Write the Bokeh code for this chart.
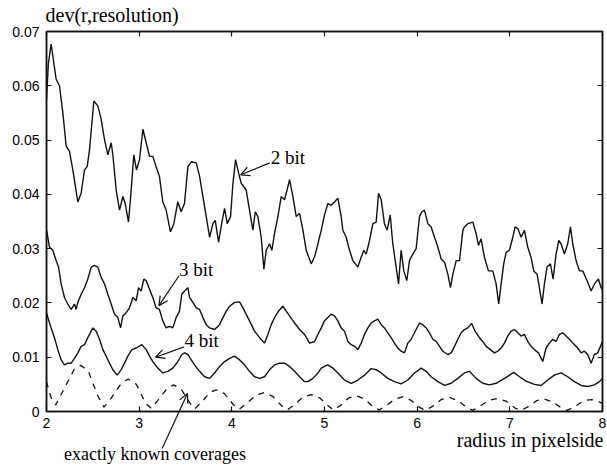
from bokeh.plotting import figure
from bokeh.models import Range1d, LinearAxis, FixedTicker, Label, Arrow, OpenHead, GridBox
from bokeh.embed import file_html
from bokeh.resources import INLINE

x_ticks = [2, 3, 4, 5, 6, 7, 8]
y_ticks = [0, 0.01, 0.02, 0.03, 0.04, 0.05, 0.06, 0.07]
y_tick_labels = ["0", "0.01", "0.02", "0.03", "0.04", "0.05", "0.06", "0.07"]

bit2_x = [2.0, 2.02, 2.05, 2.104, 2.14, 2.176, 2.212, 2.248, 2.284, 2.338, 2.374, 2.41, 2.439, 2.464,
          2.511, 2.554, 2.59, 2.626, 2.662, 2.698, 2.716, 2.752, 2.788, 2.824, 2.849, 2.885, 2.914,
          2.942, 2.971, 3.004, 3.04, 3.076, 3.112, 3.147, 3.183, 3.219, 3.255, 3.291, 3.338, 3.374,
          3.417, 3.453, 3.489,
          3.526, 3.562, 3.616, 3.652, 3.688, 3.724, 3.76, 3.796, 3.821, 3.857, 3.893, 3.922, 3.95,
          3.986, 4.012, 4.04, 4.073, 4.102, 4.13, 4.155, 4.191, 4.227, 4.253, 4.281, 4.317, 4.346,
          4.371, 4.407, 4.432, 4.461, 4.497, 4.533, 4.569, 4.605, 4.623, 4.659, 4.695, 4.731, 4.767,
          4.803, 4.857, 4.893, 4.929, 4.965,
          5.0, 5.036, 5.072, 5.108, 5.144, 5.18, 5.198, 5.234, 5.27, 5.306, 5.36, 5.396, 5.424, 5.45,
          5.486, 5.522, 5.558, 5.583, 5.612, 5.647, 5.676, 5.709, 5.737, 5.773, 5.799, 5.827, 5.856,
          5.888, 5.917, 5.953, 5.989, 6.025, 6.05, 6.079, 6.115, 6.151, 6.187, 6.223, 6.259, 6.295,
          6.331, 6.36, 6.385, 6.421, 6.457, 6.493,
          6.51, 6.546, 6.6, 6.636, 6.661, 6.69, 6.726, 6.769, 6.816, 6.852, 6.88, 6.906, 6.934, 6.96,
          6.996, 7.032, 7.057, 7.086, 7.122, 7.157, 7.193, 7.229, 7.258, 7.294, 7.319, 7.348, 7.373,
          7.402, 7.438, 7.467, 7.499, 7.528, 7.553, 7.589, 7.625, 7.654, 7.679, 7.715, 7.751, 7.787,
          7.834, 7.877, 7.913, 7.956, 7.985, 8.0]
bit2_y = [0.0575, 0.064, 0.0677, 0.0612, 0.0600, 0.0551, 0.0489, 0.0479, 0.0445, 0.0386, 0.0402,
          0.0445, 0.0451, 0.0482, 0.0572, 0.0563, 0.0538, 0.0501, 0.0473, 0.0495, 0.0473, 0.0408,
          0.0371, 0.0396, 0.0383, 0.0349, 0.0408, 0.0473, 0.0445, 0.0464, 0.0520, 0.0495, 0.0470,
          0.0470, 0.0451, 0.0433, 0.0386, 0.0371, 0.0331, 0.0346, 0.0386, 0.0368, 0.0383,
          0.0451, 0.0460, 0.0458, 0.0433, 0.0396, 0.0359, 0.0321, 0.0346, 0.0352, 0.0312, 0.0349,
          0.0374, 0.0346, 0.0359, 0.0420, 0.0464, 0.0439, 0.0420, 0.0414, 0.0408, 0.0371, 0.0334,
          0.0368, 0.0359, 0.0321, 0.0262, 0.0297, 0.0309, 0.0297, 0.0328, 0.0359, 0.0396, 0.0390,
          0.0414, 0.0427, 0.0396, 0.0359, 0.0365, 0.0334, 0.0297, 0.0272, 0.0285, 0.0309, 0.0334,
          0.0362, 0.0383, 0.0380, 0.0386, 0.0393, 0.0359, 0.0334, 0.0321, 0.0297, 0.0278, 0.0266,
          0.0284, 0.0297, 0.0290, 0.0315, 0.0346, 0.0349, 0.0402, 0.0390, 0.0346, 0.0334, 0.0362,
          0.0309, 0.0266, 0.0235, 0.0297, 0.0259, 0.0241, 0.0278, 0.0290, 0.0300, 0.0359, 0.0368,
          0.0371, 0.0346, 0.0340, 0.0321, 0.0303, 0.0281, 0.0275, 0.0253, 0.0228, 0.0253, 0.0278,
          0.0278, 0.0334,
          0.0340, 0.0346, 0.0349, 0.0328, 0.0306, 0.0318, 0.0284, 0.0259, 0.0259, 0.0235, 0.0198,
          0.0235, 0.0272, 0.0293, 0.0297, 0.0321, 0.0340, 0.0337, 0.0321, 0.0334, 0.0303, 0.0284,
          0.0259, 0.0253, 0.0228, 0.0198, 0.0235, 0.0266, 0.0272, 0.0244, 0.0290, 0.0315, 0.0309,
          0.0290, 0.0309, 0.0340, 0.0309, 0.0278, 0.0259, 0.0259, 0.0241, 0.0222, 0.0235, 0.0244,
          0.0228, 0.0225]

bit3_x = [2.0, 2.007, 2.032, 2.068, 2.104, 2.13, 2.158, 2.194, 2.23, 2.266, 2.302, 2.32, 2.338, 2.374,
          2.41, 2.446, 2.482, 2.518, 2.554, 2.59, 2.626, 2.662, 2.698, 2.734, 2.77, 2.799, 2.824,
          2.86, 2.896, 2.932, 2.968, 2.993, 3.022, 3.05, 3.076, 3.112, 3.147, 3.183, 3.219, 3.255,
          3.291, 3.327, 3.363, 3.399, 3.435, 3.46,
          3.49, 3.526, 3.544, 3.58, 3.616, 3.652, 3.688, 3.724, 3.76, 3.814, 3.868, 3.904, 3.94,
          3.976, 4.03, 4.084, 4.12, 4.155, 4.191, 4.245, 4.299, 4.353, 4.389, 4.425, 4.461, 4.504,
          4.551, 4.587, 4.623, 4.677, 4.731, 4.785, 4.839, 4.893, 4.929, 4.965,
          5.0, 5.036, 5.072, 5.108, 5.144, 5.18, 5.216, 5.252, 5.288, 5.324, 5.36, 5.396, 5.432,
          5.468, 5.504, 5.54, 5.576, 5.612, 5.647, 5.683, 5.719, 5.755, 5.791, 5.827, 5.863, 5.899,
          5.935, 5.971, 6.025, 6.061, 6.097, 6.133, 6.169, 6.205, 6.241, 6.277, 6.331, 6.367, 6.403,
          6.439, 6.475,
          6.51, 6.546, 6.589, 6.625, 6.672, 6.708, 6.744, 6.791, 6.834, 6.87, 6.906, 6.942, 6.978,
          7.014, 7.05, 7.086, 7.122, 7.157, 7.193, 7.229, 7.265, 7.309, 7.355, 7.391, 7.427, 7.463,
          7.499, 7.535, 7.571, 7.607, 7.643, 7.679, 7.733, 7.769, 7.805, 7.841, 7.877, 7.913, 7.949,
          7.985, 8.0]
bit3_y = [0.0334, 0.0328, 0.0303, 0.0297, 0.0278, 0.0266, 0.0235, 0.0210, 0.0198, 0.0188, 0.0198,
          0.0188, 0.0201, 0.0216, 0.0228, 0.0244, 0.0266, 0.0269, 0.0266, 0.0247, 0.0235, 0.0216,
          0.0198, 0.0179, 0.0173, 0.0154, 0.0176, 0.0182, 0.0191, 0.0210, 0.0204, 0.0228, 0.0222,
          0.0244, 0.0241, 0.0225, 0.0210, 0.0191, 0.0188, 0.0167, 0.0154, 0.0157, 0.0154, 0.0173,
          0.0185, 0.0216,
          0.0222, 0.0228, 0.0210, 0.0201, 0.0191, 0.0188, 0.0173, 0.0160, 0.0154, 0.0151, 0.0160,
          0.0173, 0.0185, 0.0194, 0.0201, 0.0202, 0.0191, 0.0179, 0.0167, 0.0148, 0.0136, 0.0126,
          0.0142, 0.0160, 0.0173, 0.0185, 0.0194, 0.0185, 0.0176, 0.0163, 0.0151, 0.0142, 0.0126,
          0.0129, 0.0142, 0.0154,
          0.0167, 0.0173, 0.0179, 0.0176, 0.0167, 0.0154, 0.0148, 0.0129, 0.0123, 0.0120, 0.0114,
          0.0126, 0.0142, 0.0154, 0.0163, 0.0167, 0.0170, 0.0160, 0.0154, 0.0145, 0.0136, 0.0126,
          0.0117, 0.0111, 0.0108, 0.0126, 0.0133, 0.0145, 0.0163, 0.0160, 0.0154, 0.0145, 0.0133,
          0.0129, 0.0120, 0.0111, 0.0105, 0.0108, 0.0120, 0.0133, 0.0145,
          0.0151, 0.0154, 0.0162, 0.0148, 0.0136, 0.0129, 0.0120, 0.0114, 0.0108, 0.0111, 0.0117,
          0.0126, 0.0139, 0.0148, 0.0151, 0.0145, 0.0139, 0.0142, 0.0129, 0.0120, 0.0114, 0.0108,
          0.0092, 0.0117, 0.0126, 0.0133, 0.0129, 0.0142, 0.0145, 0.0139, 0.0133, 0.0126, 0.0117,
          0.0108, 0.0111, 0.0105, 0.0089, 0.0105, 0.0108, 0.0123, 0.0129]

bit4_x = [2.0, 2.014, 2.05, 2.086, 2.122, 2.158, 2.194, 2.23, 2.266, 2.302, 2.338, 2.374, 2.41, 2.446,
          2.5, 2.536, 2.572, 2.608, 2.644, 2.68, 2.716, 2.763, 2.806, 2.842, 2.878, 2.921, 2.968,
          3.029, 3.076, 3.112, 3.147, 3.201, 3.255, 3.309, 3.363, 3.417, 3.46,
          3.49, 3.526, 3.562, 3.598, 3.652, 3.706, 3.76, 3.814, 3.868, 3.922, 3.976, 4.03, 4.084,
          4.137, 4.191, 4.245, 4.299, 4.353, 4.407, 4.461, 4.515, 4.569, 4.623, 4.677, 4.731, 4.785,
          4.821, 4.875, 4.929, 4.965,
          5.0, 5.036, 5.09, 5.144, 5.216, 5.288, 5.36, 5.432, 5.504, 5.558, 5.612, 5.683, 5.755,
          5.827, 5.899, 5.971, 6.043, 6.097, 6.151, 6.223, 6.295, 6.367, 6.439,
          6.51, 6.564, 6.636, 6.708, 6.78, 6.852, 6.942, 7.042, 7.104, 7.175, 7.265, 7.337, 7.409,
          7.481, 7.553, 7.625, 7.697, 7.769, 7.841, 7.913, 7.967, 8.0]
bit4_y = [0.0182, 0.0173, 0.0154, 0.0136, 0.0114, 0.0095, 0.0086, 0.0089, 0.0089, 0.0098, 0.0108,
          0.0120, 0.0123, 0.0136, 0.0154, 0.0148, 0.0133, 0.0114, 0.0102, 0.0089, 0.0077, 0.0067,
          0.0077, 0.0089, 0.0102, 0.0114, 0.0117, 0.0123, 0.0114, 0.0102, 0.0092, 0.0080, 0.0071,
          0.0074, 0.0080, 0.0092, 0.0105,
          0.0108, 0.0105, 0.0095, 0.0086, 0.0074, 0.0064, 0.0061, 0.0071, 0.0083, 0.0092, 0.0098,
          0.0102, 0.0095, 0.0086, 0.0074, 0.0064, 0.0061, 0.0064, 0.0077, 0.0086, 0.0089, 0.0089,
          0.0083, 0.0074, 0.0064, 0.0055, 0.0055, 0.0061, 0.0071, 0.0080,
          0.0083, 0.0086, 0.0080, 0.0071, 0.0058, 0.0052, 0.0058, 0.0067, 0.0079, 0.0077, 0.0071,
          0.0061, 0.0055, 0.0051, 0.0058, 0.0071, 0.0080, 0.0074, 0.0064, 0.0055, 0.0048, 0.0052,
          0.0061,
          0.0071, 0.0074, 0.0061, 0.0052, 0.0049, 0.0052, 0.0061, 0.0072, 0.0064, 0.0056, 0.0050,
          0.0048, 0.0058, 0.0067, 0.0071, 0.0064, 0.0055, 0.0048, 0.0046, 0.0049, 0.0055, 0.0061]

exact_x = [2.0, 2.05, 2.1, 2.2, 2.3, 2.37, 2.45, 2.55, 2.62, 2.7, 2.8, 2.88, 2.97, 3.07, 3.13, 3.2,
           3.3, 3.37, 3.45, 3.55, 3.6, 3.68, 3.76, 3.83, 3.92, 4.02, 4.08, 4.16, 4.26, 4.35, 4.44,
           4.54, 4.6, 4.68, 4.77, 4.86, 4.95, 5.05, 5.1, 5.18, 5.26, 5.34, 5.43, 5.53, 5.59, 5.67,
           5.76, 5.84, 5.93, 6.03, 6.09, 6.17, 6.26, 6.35, 6.44, 6.54, 6.6, 6.68, 6.78, 6.87, 6.96,
           7.06, 7.12, 7.2, 7.29, 7.37, 7.46, 7.56, 7.62, 7.7, 7.8, 7.88, 7.95, 8.0]
exact_y = [0.0055, 0.0025, 0.0012, 0.0045, 0.0078, 0.0085, 0.0075, 0.0030, 0.0008, 0.0025, 0.0050,
           0.0060, 0.0050, 0.0015, 0.0006, 0.0020, 0.0042, 0.0049, 0.0042, 0.0015, 0.0005, 0.0018,
           0.0035, 0.0040, 0.0033, 0.0012, 0.0004, 0.0015, 0.0030, 0.0035, 0.0028, 0.0010, 0.0003,
           0.0013, 0.0027, 0.0031, 0.0025, 0.0009, 0.0003, 0.0012, 0.0025, 0.0029, 0.0023, 0.0008,
           0.0003, 0.0011, 0.0023, 0.0027, 0.0021, 0.0007, 0.0002, 0.0010, 0.0022, 0.0026, 0.0020,
           0.0007, 0.0002, 0.0010, 0.0021, 0.0024, 0.0019, 0.0006, 0.0002, 0.0009, 0.0020, 0.0023,
           0.0018, 0.0006, 0.0002, 0.0009, 0.0020, 0.0022, 0.0019, 0.0015]

SERIF = "Liberation Serif"
SANS = "Liberation Sans"
INK = "#111111"

W, H = 607, 466
BL, BR, BT, BB = 46, 5, 31, 55
X0, X1, Y0, Y1 = 2, 8, 0, 0.07

p = figure(width=W, height=H, x_range=Range1d(X0, X1), y_range=Range1d(Y0, Y1),
           output_backend="svg", toolbar_location=None,
           min_border_left=BL, min_border_right=BR, min_border_top=BT, min_border_bottom=BB)
p.frame_align = False
p.xgrid.visible = False
p.ygrid.visible = False
p.outline_line_color = INK
p.outline_line_width = 1.5
p.background_fill_color = "white"
p.border_fill_color = "white"

def style_axis(ax, ticks, labels):
    ax.ticker = FixedTicker(ticks=ticks)
    ax.major_tick_in = 5
    ax.major_tick_out = 0
    ax.minor_tick_line_color = None
    ax.axis_line_color = INK
    ax.axis_line_width = 1.5
    ax.major_tick_line_color = INK
    ax.major_tick_line_width = 1.2
    ax.major_label_overrides = dict(zip(ticks, labels))
    ax.major_label_text_font = SANS
    ax.major_label_text_font_size = "14px"
    ax.major_label_text_color = "black"

style_axis(p.xaxis[0], x_ticks, [str(t) for t in x_ticks])
style_axis(p.yaxis[0], y_ticks, y_tick_labels)
p.xaxis.major_label_standoff = 6
p.yaxis.major_label_standoff = 7

top_ax = LinearAxis()
style_axis(top_ax, x_ticks, ["" for t in x_ticks])
top_ax.major_label_standoff = 0
p.add_layout(top_ax, "above")
right_ax = LinearAxis()
style_axis(right_ax, y_ticks, ["" for t in y_ticks])
right_ax.major_label_standoff = 0
p.add_layout(right_ax, "right")

p.line(bit2_x, bit2_y, line_color=INK, line_width=1.4)
p.line(bit3_x, bit3_y, line_color=INK, line_width=1.4)
p.line(bit4_x, bit4_y, line_color=INK, line_width=1.4)
p.line(exact_x, exact_y, line_color=INK, line_width=1.3, line_dash="6 6")

# transparent overlay sharing the same data scale, for texts/arrow outside the frame
fw = W - BL - BR
fh = H - BT - BB
ox0 = X0 - BL * (X1 - X0) / fw
ox1 = X1 + BR * (X1 - X0) / fw
oy0 = Y0 - BB * (Y1 - Y0) / fh
oy1 = Y1 + BT * (Y1 - Y0) / fh
ov = figure(width=W, height=H, x_range=Range1d(ox0, ox1), y_range=Range1d(oy0, oy1),
            output_backend="svg", toolbar_location=None, x_axis_type=None, y_axis_type=None,
            min_border=0, min_border_left=0, min_border_right=0, min_border_top=0,
            min_border_bottom=0)
ov.frame_align = False
ov.xgrid.visible = False
ov.ygrid.visible = False
ov.outline_line_color = None
ov.background_fill_color = None
ov.border_fill_color = None

def add_label(fig, x, y, text, align="left", size="19px"):
    fig.add_layout(Label(x=x, y=y, text=text, text_font=SERIF, text_font_size=size,
                         text_color="black", text_align=align, text_baseline="middle"))

def add_arrow(fig, x0, y0, x1, y1):
    fig.add_layout(Arrow(end=OpenHead(size=9, line_width=1.2, line_color=INK),
                         x_start=x0, y_start=y0, x_end=x1, y_end=y1,
                         line_width=1.2, line_color=INK))

add_label(p, 4.42, 0.0468, "2 bit")
add_arrow(p, 4.41, 0.0458, 4.095, 0.0436)
add_label(p, 3.43, 0.0262, "3 bit")
add_arrow(p, 3.43, 0.0250, 3.213, 0.0195)
add_label(p, 3.49, 0.0131, "4 bit")
add_arrow(p, 3.483, 0.0119, 3.177, 0.0100)

add_label(ov, 2.19, -0.0079, "exactly known coverages", size="18px")
add_arrow(ov, 3.248, -0.0068, 3.521, 0.0033)
add_label(ov, 8.01, -0.0053, "radius in pixelside", align="right", size="20px")
add_label(ov, 1.99, 0.0730, "dev(r,resolution)", size="20px")

layout = GridBox(children=[(p, 0, 0), (ov, 0, 0)])

open("out.html", "w").write(file_html(layout, INLINE))
